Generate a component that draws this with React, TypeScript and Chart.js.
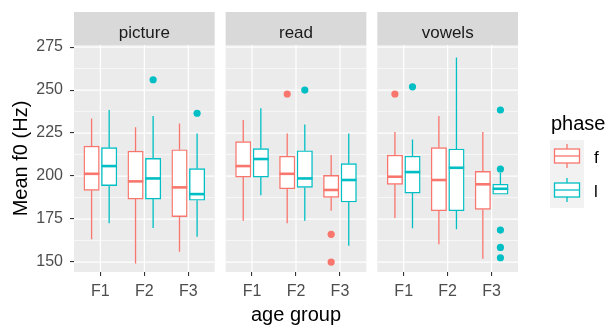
import React, { useEffect, useRef } from 'react';
import { Chart, registerables } from 'chart.js';

Chart.register(...registerables);

const panels = ['picture', 'read', 'vowels'];
const categories = ['F1', 'F2', 'F3'];
const phases = ['f', 'l'];
const phaseColors = ['#F8766D', '#00BFC4'];
const yTicks = [150, 175, 200, 225, 250, 275];
const yMinor = [162.5, 187.5, 212.5, 237.5, 262.5];

// group order: picture F1..F3, read F1..F3, vowels F1..F3
const fLower = [163.2, 149.2, 156.0, 174.0, 172.5, 179.8, 175.6, 160.3, 151.9];
const fQ1 = [191.7, 186.6, 176.4, 199.4, 192.6, 187.6, 195.2, 179.8, 180.6];
const fMedian = [201.3, 196.9, 193.4, 205.8, 201.3, 191.9, 199.6, 197.7, 195.2];
const fQ3 = [217.4, 214.5, 215.3, 220.0, 211.5, 200.4, 212.2, 216.5, 202.7];
const fUpper = [233.5, 228.3, 230.6, 232.6, 224.8, 212.2, 225.6, 234.9, 225.6];
const fOutlierGroup = [4, 5, 5, 6];
const fOutlierValue = [247.7, 166.1, 150.0, 247.7];

const lLower = [172.5, 169.8, 164.7, 188.8, 174.0, 159.5, 169.6, 169.0, 189.4];
const lQ1 = [194.4, 186.6, 185.9, 199.4, 193.4, 184.9, 190.1, 179.8, 189.4];
const lMedian = [205.8, 198.6, 189.5, 209.9, 198.6, 197.7, 202.3, 204.8, 192.6];
const lQ3 = [216.5, 210.3, 204.3, 215.9, 214.7, 207.2, 211.5, 215.7, 195.2];
const lUpper = [238.4, 234.9, 224.8, 239.4, 230.0, 224.8, 221.3, 269.0, 201.9];
const lOutlierGroup = [1, 2, 4, 6, 8, 8, 8, 8, 8];
const lOutlierValue = [256.0, 236.5, 250.0, 251.9, 238.4, 204.1, 168.6, 158.5, 152.5];

const stats = [
  { lower: fLower, q1: fQ1, median: fMedian, q3: fQ3, upper: fUpper, og: fOutlierGroup, ov: fOutlierValue },
  { lower: lLower, q1: lQ1, median: lMedian, q3: lQ3, upper: lUpper, og: lOutlierGroup, ov: lOutlierValue },
];

const PANEL_UNITS = 3.2;
const GAP_UNITS = 0.25;
const DODGE = 0.2;
const BOX_PX = 15.4;
const FONT = "'Liberation Sans', Arial, sans-serif";

const panelStart = (p: number) => p * (PANEL_UNITS + GAP_UNITS);
const catX = (g: number) => panelStart(Math.floor(g / 3)) + (g % 3) + 0.6;
const groupX = (g: number, phase: number) => catX(g) + (phase === 0 ? -DODGE : DODGE);
const groups = Array.from({ length: panels.length * categories.length }, (_, i) => i);

const facetPlugin = {
  id: 'facets',
  beforeDraw(chart: any) {
    const { ctx, chartArea, scales } = chart;
    const { top, bottom } = chartArea;
    const x = scales.x;
    const y = scales.y;
    ctx.save();
    panels.forEach((name, p) => {
      const x0 = x.getPixelForValue(panelStart(p));
      const x1 = x.getPixelForValue(panelStart(p) + PANEL_UNITS);
      ctx.fillStyle = '#EBEBEB';
      ctx.fillRect(x0, top, x1 - x0, bottom - top);
      ctx.strokeStyle = '#FFFFFF';
      ctx.lineWidth = 0.6;
      yMinor.forEach((v) => {
        const py = y.getPixelForValue(v);
        ctx.beginPath();
        ctx.moveTo(x0, py);
        ctx.lineTo(x1, py);
        ctx.stroke();
      });
      ctx.lineWidth = 1.2;
      yTicks.forEach((v) => {
        const py = y.getPixelForValue(v);
        ctx.beginPath();
        ctx.moveTo(x0, py);
        ctx.lineTo(x1, py);
        ctx.stroke();
      });
      categories.forEach((_, c) => {
        const px = x.getPixelForValue(catX(p * 3 + c));
        ctx.beginPath();
        ctx.moveTo(px, top);
        ctx.lineTo(px, bottom);
        ctx.stroke();
      });
      // strip
      ctx.fillStyle = '#D9D9D9';
      ctx.fillRect(x0, top - 33, x1 - x0, 33);
      ctx.fillStyle = '#1A1A1A';
      ctx.font = `17px ${FONT}`;
      ctx.textAlign = 'center';
      ctx.textBaseline = 'alphabetic';
      ctx.fillText(name, (x0 + x1) / 2, top - 7);
    });
    ctx.restore();
  },
  beforeDatasetsDraw(chart: any) {
    const { ctx, scales } = chart;
    const x = scales.x;
    const y = scales.y;
    ctx.save();
    ctx.lineWidth = 1.3;
    stats.forEach((s, ph) => {
      ctx.strokeStyle = phaseColors[ph];
      groups.forEach((g) => {
        const px = x.getPixelForValue(groupX(g, ph));
        ctx.beginPath();
        ctx.moveTo(px, y.getPixelForValue(s.lower[g]));
        ctx.lineTo(px, y.getPixelForValue(s.q1[g]));
        ctx.moveTo(px, y.getPixelForValue(s.q3[g]));
        ctx.lineTo(px, y.getPixelForValue(s.upper[g]));
        ctx.stroke();
      });
    });
    ctx.restore();
  },
  afterDatasetsDraw(chart: any) {
    const { ctx, scales } = chart;
    const x = scales.x;
    const y = scales.y;
    ctx.save();
    ctx.lineWidth = 2.6;
    stats.forEach((s, ph) => {
      ctx.strokeStyle = phaseColors[ph];
      groups.forEach((g) => {
        const px = x.getPixelForValue(groupX(g, ph));
        const py = y.getPixelForValue(s.median[g]);
        ctx.beginPath();
        ctx.moveTo(px - BOX_PX / 2, py);
        ctx.lineTo(px + BOX_PX / 2, py);
        ctx.stroke();
      });
    });
    ctx.restore();
  },
  afterDraw(chart: any) {
    const { ctx } = chart;
    ctx.save();
    ctx.fillStyle = '#000000';
    ctx.font = `20px ${FONT}`;
    ctx.textAlign = 'left';
    ctx.textBaseline = 'alphabetic';
    ctx.fillText('phase', 551, 130);
    const kx = 550;
    const ky = 140;
    const ks = 34;
    ctx.fillStyle = '#F2F2F2';
    ctx.fillRect(kx, ky, ks, ks * phases.length);
    phases.forEach((label, i) => {
      const cy = ky + ks * i + ks / 2 - 1;
      const cx = kx + ks / 2;
      ctx.strokeStyle = phaseColors[i];
      ctx.lineWidth = 1.3;
      ctx.beginPath();
      ctx.moveTo(cx, cy - 12);
      ctx.lineTo(cx, cy - 7);
      ctx.moveTo(cx, cy + 7);
      ctx.lineTo(cx, cy + 12);
      ctx.stroke();
      ctx.fillStyle = '#FFFFFF';
      ctx.fillRect(kx + 4.5, cy - 7, ks - 9, 14);
      ctx.strokeRect(kx + 4.5, cy - 7, ks - 9, 14);
      ctx.beginPath();
      ctx.moveTo(kx + 4.5, cy);
      ctx.lineTo(kx + ks - 4.5, cy);
      ctx.stroke();
      ctx.fillStyle = '#000000';
      ctx.font = `17px ${FONT}`;
      ctx.fillText(label, 594, cy + 6.5);
    });
    ctx.restore();
  },
};

export default function App() {
  const ref = useRef<HTMLCanvasElement>(null);
  useEffect(() => {
    if (!ref.current) return;
    const datasets: any[] = [];
    stats.forEach((s, ph) => {
      datasets.push({
        type: 'bar',
        label: phases[ph],
        data: groups.map((g) => ({ x: groupX(g, ph), y: [s.q1[g], s.q3[g]] })),
        backgroundColor: '#FFFFFF',
        borderColor: phaseColors[ph],
        borderWidth: 1.4,
        borderSkipped: false,
        barThickness: BOX_PX,
        grouped: false,
      });
    });
    stats.forEach((s, ph) => {
      datasets.push({
        type: 'scatter',
        label: phases[ph] + ' outliers',
        data: s.og.map((g, i) => ({ x: groupX(g, ph), y: s.ov[i] })),
        pointRadius: 3.6,
        pointBackgroundColor: phaseColors[ph],
        pointBorderWidth: 0,
        showLine: false,
      });
    });
    const chart = new Chart(ref.current, {
      type: 'scatter',
      data: { datasets },
      plugins: [facetPlugin],
      options: {
        responsive: false,
        animation: false,
        events: [],
        layout: { padding: { top: 45, right: 93, bottom: 0, left: 0 } },
        plugins: { legend: { display: false }, tooltip: { enabled: false } },
        scales: {
          x: {
            type: 'linear',
            min: 0,
            max: panels.length * PANEL_UNITS + (panels.length - 1) * GAP_UNITS,
            offset: false,
            afterBuildTicks: (scale: any) => {
              scale.ticks = groups.map((g) => ({ value: catX(g) }));
            },
            afterFit: (scale: any) => {
              scale.height = 53;
            },
            grid: {
              offset: false,
              drawOnChartArea: false,
              drawTicks: true,
              tickLength: 4,
              color: '#333333',
              lineWidth: 1.1,
            },
            border: { display: false },
            ticks: {
              autoSkip: false,
              maxRotation: 0,
              padding: 6,
              color: '#4D4D4D',
              font: { family: FONT, size: 16 },
              callback: (_v: any, i: number) => categories[i % categories.length],
            },
            title: {
              display: true,
              text: 'age group',
              color: '#000000',
              font: { family: FONT, size: 20 },
              padding: { top: 0, bottom: -2 },
            },
          },
          y: {
            type: 'linear',
            min: 144.2,
            max: 276.2,
            afterBuildTicks: (scale: any) => {
              scale.ticks = yTicks.map((v) => ({ value: v }));
            },
            afterFit: (scale: any) => {
              scale.width = 74;
            },
            grid: {
              drawOnChartArea: false,
              drawTicks: true,
              tickLength: 4,
              color: '#333333',
              lineWidth: 1.1,
            },
            border: { display: false },
            ticks: {
              padding: 7,
              color: '#4D4D4D',
              font: { family: FONT, size: 16 },
              callback: (v: any) => String(v),
            },
            title: {
              display: true,
              text: 'Mean f0 (Hz)',
              color: '#000000',
              font: { family: FONT, size: 20 },
              padding: { top: 9, bottom: 0 },
            },
          },
        },
      } as any,
    });
    return () => chart.destroy();
  }, []);
  return (
    <div style={{ position: 'fixed', left: 0, top: 0, width: 611, height: 325 }}>
      <canvas ref={ref} width={611} height={325} style={{ width: 611, height: 325 }} />
    </div>
  );
}
